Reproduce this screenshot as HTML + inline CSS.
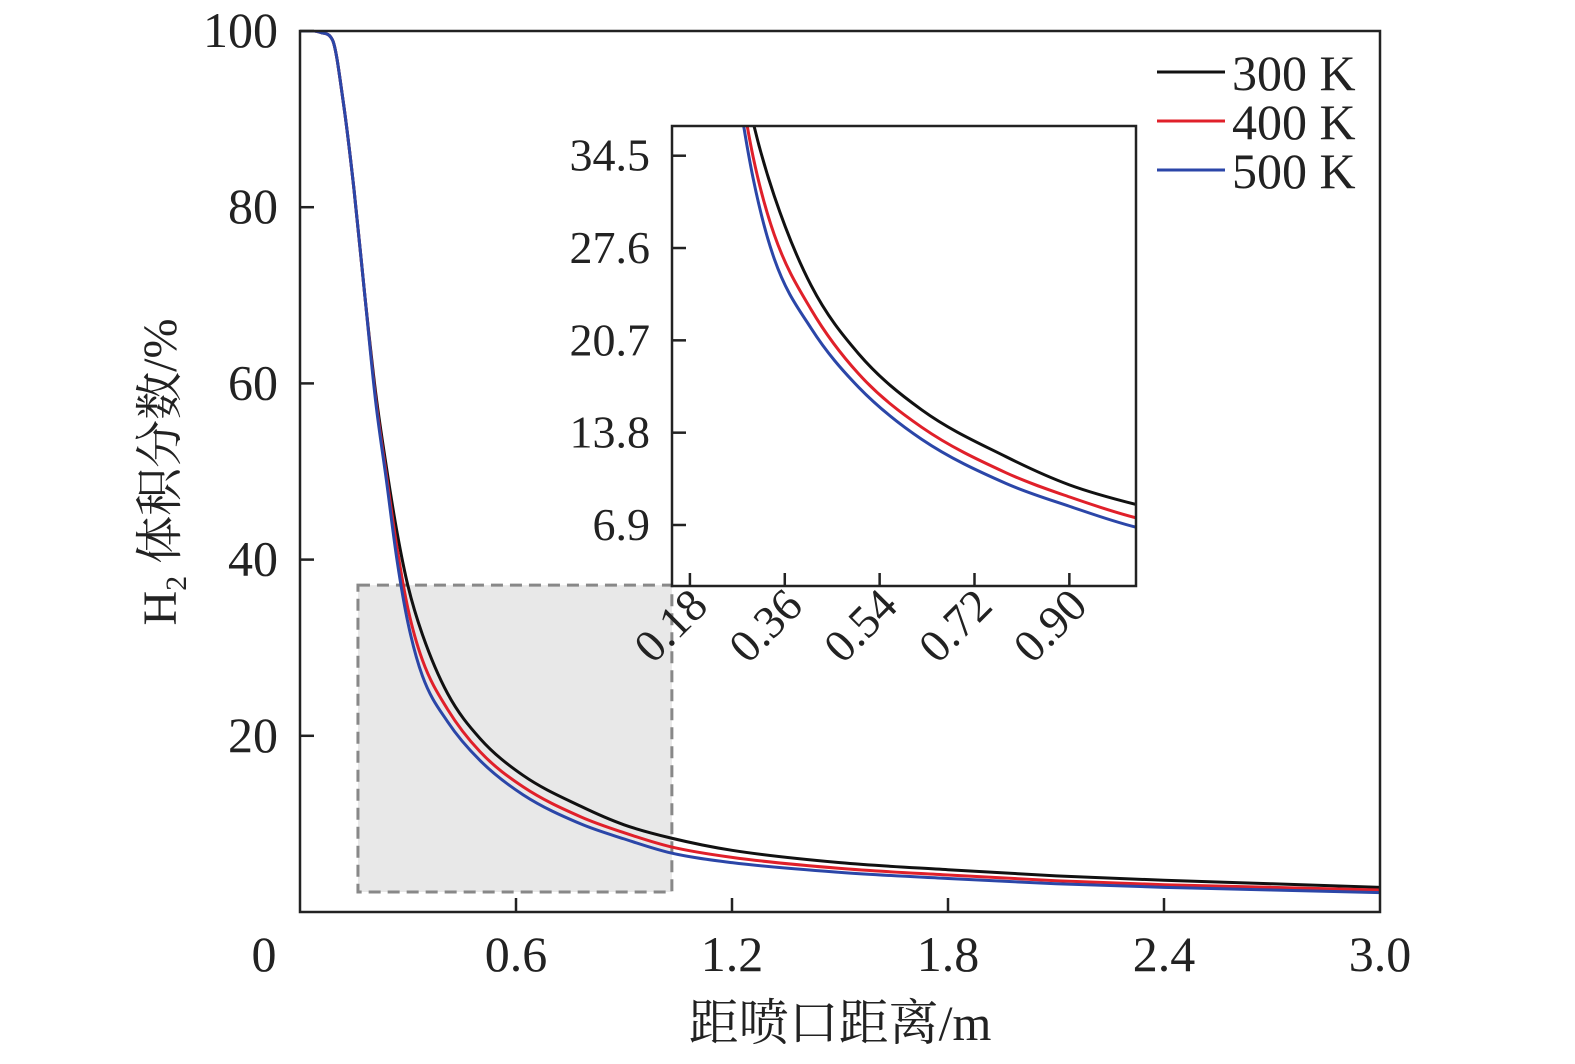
<!DOCTYPE html>
<html><head><meta charset="utf-8">
<style>
html,body{margin:0;padding:0;background:#fff;}
svg{display:block;font-family:"Liberation Serif","Noto Serif CJK SC",serif;}
</style></head>
<body>
<svg id="chart" width="1575" height="1064" viewBox="0 0 1575 1064" xmlns="http://www.w3.org/2000/svg">
<defs>
<clipPath id="mainClip"><rect x="300" y="31" width="1080" height="881"/></clipPath>
<clipPath id="insetClip"><rect x="672" y="126" width="464" height="460"/></clipPath>
</defs>
<g id="main"></g>
<g id="inset"></g>
<g id="legend"></g>
<text transform="translate(176,472) rotate(-90)" text-anchor="middle" font-size="48" fill="#222">H<tspan font-size="30" dy="10">2</tspan><tspan dy="-10"> 体积分数/%</tspan></text>
<text x="840" y="1040" text-anchor="middle" font-size="50" fill="#222">距喷口距离/m</text>
</svg>
<script>
const seriesNames = ["300 K","400 K","500 K"];
const seriesColors = ["#111111","#e0202a","#2b46a8"];
const xVals = [0,0.04,0.06,0.09,0.12,0.15,0.18,0.21,0.24,0.27,0.3,0.34,0.41,0.5,0.62,0.78,0.9,1.03,1.2,1.5,1.8,2.1,2.4,2.7,3.0];
const y300 = [100,100,99.8,99,92,82,70,59,50.5,43,37,31.5,24.8,19.7,15.5,12.0,9.9,8.4,7.0,5.6,4.8,4.1,3.6,3.2,2.8];
const y400 = [100,100,99.8,99,92,82,70,58.4,49.6,41.2,34.4,28.6,23.0,18.2,14.2,10.8,9.0,7.4,6.2,4.95,4.2,3.55,3.1,2.8,2.5];
const y500 = [100,100,99.8,99,92,82,70,58,49,39.8,32.8,26.8,21.6,17.2,13.3,10.0,8.3,6.7,5.6,4.5,3.8,3.2,2.8,2.5,2.2];
const series = [y300,y400,y500];
const mainXTicks = [0,0.6,1.2,1.8,2.4,3.0];
const mainXLabels = ["0","0.6","1.2","1.8","2.4","3.0"];
const mainYTicks = [20,40,60,80,100];
const mainYLabels = ["20","40","60","80","100"];
const insetXTicks = [0.18,0.36,0.54,0.72,0.90];
const insetXLabels = ["0.18","0.36","0.54","0.72","0.90"];
const insetYTicks = [6.9,13.8,20.7,27.6,34.5];
const insetYLabels = ["6.9","13.8","20.7","27.6","34.5"];
const zoomBox = [0.161,1.033,2.27,37.1];

const NS="http://www.w3.org/2000/svg";
function mk(tag,attrs,parent){const e=document.createElementNS(NS,tag);for(const k in attrs)e.setAttribute(k,attrs[k]);parent.appendChild(e);return e;}
const mx=v=>300+v*360, my=v=>912-v*8.81;
const ix=v=>672+(v-0.146)*527, iy=v=>586-(v-2.34)*13.38;
function pathD(xs,ys,fx,fy){
  const p=xs.map((x,i)=>[fx(x),fy(ys[i])]);
  const n=p.length, d=[], m=[];
  for(let i=0;i<n-1;i++) d.push((p[i+1][1]-p[i][1])/(p[i+1][0]-p[i][0]));
  m[0]=d[0]; m[n-1]=d[n-2];
  for(let i=1;i<n-1;i++){ m[i]=(d[i-1]*d[i]<=0)?0:(d[i-1]+d[i])/2; }
  for(let i=0;i<n-1;i++){ if(d[i]===0){m[i]=0;m[i+1]=0;continue;} const a=m[i]/d[i],b=m[i+1]/d[i],s=a*a+b*b; if(s>9){const t=3/Math.sqrt(s);m[i]=t*a*d[i];m[i+1]=t*b*d[i];} }
  let s="M"+p[0][0]+","+p[0][1];
  for(let i=0;i<n-1;i++){
    const h=(p[i+1][0]-p[i][0])/3;
    s+=` C${p[i][0]+h},${p[i][1]+m[i]*h} ${p[i+1][0]-h},${p[i+1][1]-m[i+1]*h} ${p[i+1][0]},${p[i+1][1]}`;
  }
  return s;
}
const main=document.getElementById('main');
const zr=mk('rect',{x:mx(zoomBox[0]),y:my(zoomBox[3]),width:mx(zoomBox[1])-mx(zoomBox[0]),height:my(zoomBox[2])-my(zoomBox[3]),fill:"#e8e8e8",stroke:"#888","stroke-width":3,"stroke-dasharray":"12,7"},main);


const cg=mk('g',{"clip-path":"url(#mainClip)"},main);
[0,1,2].forEach(s=>{
  const l=mk('path',{d:pathD(xVals,series[s],mx,my),fill:"none",stroke:seriesColors[s],"stroke-width":3},cg);
  
  
});
const frame=mk('rect',{x:300,y:31,width:1080,height:881,fill:"none",stroke:"#222","stroke-width":2.5},main);


mainXTicks.forEach((t,i)=>{
  if(i>0&&i<mainXTicks.length-1) mk('line',{x1:mx(t),x2:mx(t),y1:912,y2:898,stroke:"#222","stroke-width":2.5},main);
  const tx=mk('text',{x:mx(t)+(i==0?-36:0),y:971,"text-anchor":"middle","font-size":50,fill:"#222"},main);
  tx.textContent=mainXLabels[i];
  
  
});
mainYTicks.forEach((t,i)=>{
  mk('line',{x1:300,x2:314,y1:my(t),y2:my(t),stroke:"#222","stroke-width":2.5},main);
  const tx=mk('text',{x:278,y:my(t)+16,"text-anchor":"end","font-size":50,fill:"#222"},main);
  tx.textContent=mainYLabels[i];
  
  
});
const inset=document.getElementById('inset');
mk('rect',{x:672,y:126,width:464,height:460,fill:"#fff"},inset);
const ig=mk('g',{"clip-path":"url(#insetClip)"},inset);
[0,1,2].forEach(s=>{
  const l=mk('path',{d:pathD(xVals,series[s],ix,iy),fill:"none",stroke:seriesColors[s],"stroke-width":3},ig);
  
  
});
const iframe=mk('rect',{x:672,y:126,width:464,height:460,fill:"none",stroke:"#222","stroke-width":2.5},inset);


insetXTicks.forEach((t,i)=>{
  mk('line',{x1:ix(t),x2:ix(t),y1:586,y2:573,stroke:"#222","stroke-width":2.5},inset);
  const tx=mk('text',{transform:`translate(${ix(t)+20},${608}) rotate(-45)`,"text-anchor":"end","font-size":46,fill:"#222"},inset);
  tx.textContent=insetXLabels[i];
  
  
});
insetYTicks.forEach((t,i)=>{
  mk('line',{x1:672,x2:686,y1:iy(t),y2:iy(t),stroke:"#222","stroke-width":2.5},inset);
  const tx=mk('text',{x:650,y:iy(t)+15,"text-anchor":"end","font-size":46,fill:"#222"},inset);
  tx.textContent=insetYLabels[i];
  
  
});
const lg=document.getElementById('legend');
seriesNames.forEach((n,i)=>{
  const y=72+i*49;
  const ln=mk('line',{x1:1157,x2:1225,y1:y,y2:y,stroke:seriesColors[i],"stroke-width":3},lg);
  
  
  const tx=mk('text',{x:1232,y:y+18,"font-size":50,fill:"#222"},lg);
  tx.textContent=n;
  
  
});
</script>
</body></html>
